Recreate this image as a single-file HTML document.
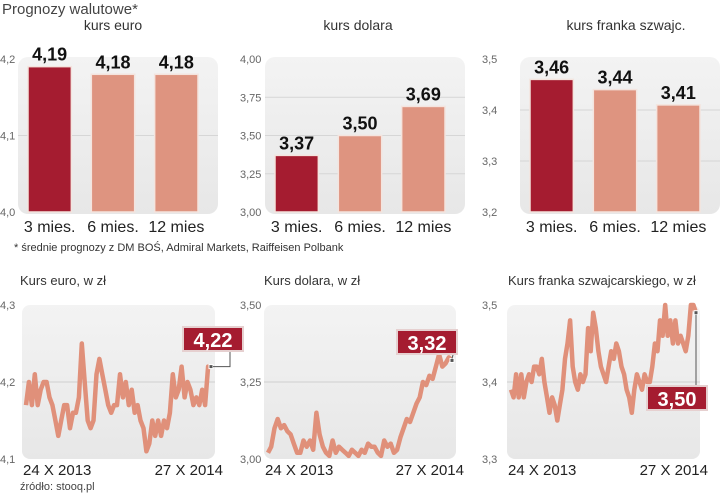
<!DOCTYPE html>
<html><head><meta charset="utf-8"><style>
body{margin:0;background:#fff;}
svg{display:block;font-family:"Liberation Sans",sans-serif;}
</style></head><body>
<svg id="s" width="720" height="494" viewBox="0 0 720 494" xmlns="http://www.w3.org/2000/svg">
<defs>
<linearGradient id="bg" x1="0" y1="0" x2="0" y2="1"><stop offset="0" stop-color="#f3f3f3"/><stop offset="1" stop-color="#e7e7e7"/></linearGradient>
</defs>
<text x="2" y="14" font-size="15" fill="#444">Prognozy walutowe*</text>
<text x="14" y="251" font-size="11" fill="#333">* średnie prognozy z DM BOŚ, Admiral Markets, Raiffeisen Polbank</text>
<text x="20" y="490" font-size="11" fill="#444">źródło: stooq.pl</text>
<g id="g"></g>
</svg>
<script>
var barCats=["3 mies.","6 mies.","12 mies"];
var euroBars=[4.19,4.18,4.18];
var usdBars=[3.37,3.50,3.69];
var chfBars=[3.46,3.44,3.41];
var euroBarTicks=["4,0","4,1","4,2"];
var usdBarTicks=["3,00","3,25","3,50","3,75","4,00"];
var chfBarTicks=["3,2","3,3","3,4","3,5"];

var euroLine=[4.17,4.20,4.17,4.21,4.17,4.19,4.20,4.20,4.18,4.17,4.15,4.13,4.15,4.17,4.17,4.14,4.16,4.16,4.18,4.25,4.20,4.15,4.14,4.15,4.21,4.23,4.21,4.19,4.17,4.16,4.17,4.17,4.21,4.18,4.20,4.17,4.19,4.16,4.17,4.15,4.14,4.11,4.12,4.15,4.13,4.15,4.13,4.15,4.14,4.16,4.21,4.18,4.19,4.22,4.18,4.20,4.19,4.17,4.18,4.17,4.19,4.17,4.22,4.22];
var usdLine=[3.02,3.04,3.10,3.13,3.10,3.11,3.09,3.08,3.05,3.02,3.02,3.06,3.04,3.06,3.03,3.15,3.08,3.04,3.02,3.01,3.06,3.02,3.04,3.03,3.02,3.01,3.03,3.02,3.01,3.03,3.02,3.05,3.04,3.04,3.02,3.01,3.06,3.04,3.05,3.02,3.03,3.07,3.10,3.13,3.12,3.15,3.18,3.20,3.25,3.24,3.27,3.26,3.30,3.34,3.30,3.31,3.33,3.32];
var chfLine=[3.39,3.38,3.41,3.38,3.41,3.38,3.40,3.41,3.40,3.42,3.42,3.41,3.43,3.40,3.38,3.36,3.38,3.37,3.35,3.37,3.39,3.43,3.45,3.48,3.42,3.40,3.39,3.41,3.40,3.41,3.47,3.44,3.49,3.47,3.44,3.42,3.41,3.40,3.42,3.44,3.43,3.45,3.44,3.42,3.41,3.39,3.38,3.36,3.39,3.41,3.40,3.39,3.41,3.40,3.40,3.42,3.45,3.44,3.48,3.46,3.50,3.46,3.48,3.45,3.48,3.45,3.46,3.45,3.44,3.46,3.50,3.50,3.49];
var euroLineTicks=["4,1","4,2","4,3"];
var usdLineTicks=["3,00","3,25","3,50"];
var chfLineTicks=["3,3","3,4","3,5"];
var dateLabels=["24 X 2013","27 X 2014"];
var lastLabels=["4,22","3,32","3,50"];

var NS="http://www.w3.org/2000/svg",G=document.getElementById("g");
function mk(t,a,p){var e=document.createElementNS(NS,t);for(var k in a)e.setAttribute(k,a[k]);(p||G).appendChild(e);return e;}
function txt(x,y,s,sz,fill,anchor,weight){var e=mk("text",{x:x,y:y,"font-size":sz,fill:fill,"text-anchor":anchor||"start","font-weight":weight||"normal"});e.textContent=s;return e;}

function barChart(o){
  var y=function(v){return o.y0+(v-o.min)/(o.max-o.min)*(o.y1-o.y0);};
  var bg=mk("rect",{x:o.bx,y:o.y1-2,width:o.bw,height:o.y0-o.y1+4,rx:10,fill:"url(#bg)"});
  
  
  var t=txt(o.cx,30,o.title,14,"#333","middle");
  
  
  o.ticks.forEach(function(s,i){
    var v=o.min+i*(o.max-o.min)/(o.ticks.length-1),yy=y(v);
    if(i>0&&i<o.ticks.length-1){var gl=mk("line",{x1:o.bx,x2:o.bx+o.bw,y1:yy,y2:yy,stroke:"#d6d6d6"});}
    var tl=txt(o.tx,yy+4,s,11,"#666","start");
    
    
  });
  o.vals.forEach(function(v,i){
    var x=o.bx+10+i*(o.bw-10)/3, w=(o.bw-10)/3-20;
    var r=mk("rect",{x:x,y:y(v),width:w,height:o.y0-y(v),fill:i==0?"#a51c30":"#de9480",stroke:"#f4e4de","stroke-width":1.5});
    
    
    var vl=txt(x+w/2,y(v)-6,v.toFixed(2).replace(".",","),18,"#111","middle","bold");
    
    
    var cl=txt(x+w/2,o.y0+20,barCats[i],16,"#222","middle");
    
    
  });
}
barChart({name:"euro",title:"kurs euro",cx:113,vals:euroBars,ticks:euroBarTicks,min:4.0,max:4.2,bx:18,bw:200,tx:0,y0:212,y1:59});
barChart({name:"usd",title:"kurs dolara",cx:358,vals:usdBars,ticks:usdBarTicks,min:3.0,max:4.0,bx:265,bw:200,tx:240,y0:212,y1:59});
barChart({name:"chf",title:"kurs franka szwajc.",cx:626,vals:chfBars,ticks:chfBarTicks,min:3.2,max:3.5,bx:520,bw:200,tx:482,y0:212,y1:59});

function lineChart(o){
  var y=function(v){return o.y0+(v-o.min)/(o.max-o.min)*(o.y1-o.y0);};
  var x=function(i){return o.bx+4+i*(o.bw-8)/(o.vals.length-1);};
  var bg=mk("rect",{x:o.bx,y:o.y1,width:o.bw,height:o.y0-o.y1,rx:8,fill:"url(#bg)"});
  
  
  var t=txt(o.tx0,285,o.title,13,"#333","start");
  
  
  o.ticks.forEach(function(s,i){
    var yy=o.y0+i*(o.y1-o.y0)/(o.ticks.length-1);
    if(i==1){var gl=mk("line",{x1:o.bx,x2:o.bx+o.bw,y1:yy,y2:yy,stroke:"#cfcfcf"});}
    var tl=txt(o.tx,yy+4,s,11,"#666","start");
    
    
  });
  var pts=o.vals.map(function(v,i){return x(i).toFixed(1)+","+y(v).toFixed(1);}).join(" ");
  var p=mk("polyline",{points:pts,fill:"none",stroke:"#e0907a","stroke-width":4.5,"stroke-linejoin":"round"});
  
  
  var lx=x(o.vals.length-1),ly=y(o.vals[o.vals.length-1]);
  var dot=mk("rect",{x:lx-2,y:ly-2,width:4,height:4,fill:"#555",stroke:"#fff"});
  
  
  mk("path",{d:o.lead(lx,ly),fill:"none",stroke:"#555","stroke-width":1});
  var b=mk("rect",{x:o.lbx,y:o.lby,width:60,height:24,fill:"#a51c30",stroke:"#e6d0d0","stroke-width":2});
  
  
  var bt=txt(o.lbx+30,o.lby+20,o.label,20,"#fff","middle","bold");
  
  
  var d1=txt(o.bx+1,475,dateLabels[0],15,"#222","start");
  
  
  var d2=txt(o.bx+o.bw+8,475,dateLabels[1],15,"#222","end");
  
  
}
lineChart({name:"euro",title:"Kurs euro, w zł",tx0:20,vals:euroLine,ticks:euroLineTicks,min:4.1,max:4.3,bx:22,bw:193,tx:0,y0:459,y1:305,label:lastLabels[0],lbx:183,lby:327,lead:function(x,y){return "M"+(x+2)+","+y+"H230V351";}});
lineChart({name:"usd",title:"Kurs dolara, w zł",tx0:264,vals:usdLine,ticks:usdLineTicks,min:3.0,max:3.5,bx:264,bw:192,tx:240,y0:459,y1:305,label:lastLabels[1],lbx:397,lby:330,lead:function(x,y){return "M"+x+","+(y-2)+"L"+(x+1)+",355";}});
lineChart({name:"chf",title:"Kurs franka szwajcarskiego, w zł",tx0:508,vals:chfLine,ticks:chfLineTicks,min:3.3,max:3.5,bx:507,bw:193,tx:482,y0:459,y1:305,label:lastLabels[2],lbx:647,lby:386,lead:function(x,y){return "M"+x+","+(y+2)+"V386";}});
</script>
</body></html>
